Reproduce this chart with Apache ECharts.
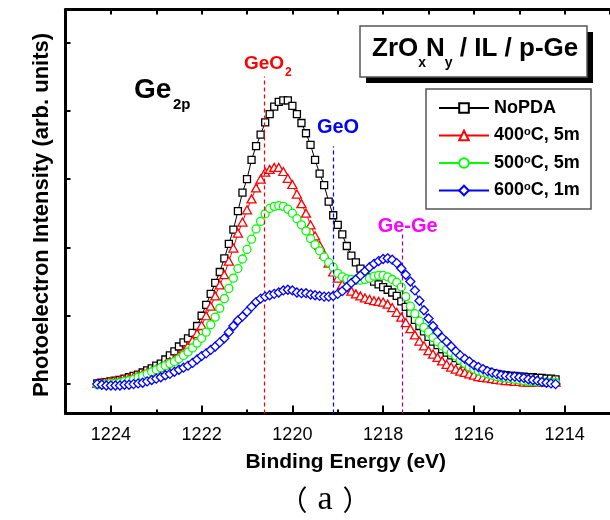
<!DOCTYPE html>
<html>
<head>
<meta charset="utf-8">
<script src="https://cdn.jsdelivr.net/npm/echarts@6/dist/echarts.min.js"></script>
<style>html,body{margin:0;padding:0;background:#fff}#c{width:610px;height:520px}</style>
</head>
<body>
<div id="c"></div>
<script>
// Binding energy (eV) of each data point
const energies = [
  1224.3,1224.2,1224.1,1224.0,1223.9,1223.8,1223.7,1223.6,1223.5,1223.4,
  1223.3,1223.2,1223.1,1223.0,1222.9,1222.8,1222.7,1222.6,1222.5,1222.4,
  1222.3,1222.2,1222.1,1222.0,1221.9,1221.8,1221.7,1221.6,1221.5,1221.4,
  1221.3,1221.2,1221.1,1221.0,1220.9,1220.8,1220.7,1220.6,1220.5,1220.4,
  1220.3,1220.2,1220.1,1220.0,1219.9,1219.8,1219.7,1219.6,1219.5,1219.4,
  1219.3,1219.2,1219.1,1219.0,1218.9,1218.8,1218.7,1218.6,1218.5,1218.4,
  1218.3,1218.2,1218.1,1218.0,1217.9,1217.8,1217.7,1217.6,1217.5,1217.4,
  1217.3,1217.2,1217.1,1217.0,1216.9,1216.8,1216.7,1216.6,1216.5,1216.4,
  1216.3,1216.2,1216.1,1216.0,1215.9,1215.8,1215.7,1215.6,1215.5,1215.4,
  1215.3,1215.2,1215.1,1215.0,1214.9,1214.8,1214.7,1214.6,1214.5,1214.4,
  1214.3,1214.2
];
// Photoelectron intensity (arb. units)
const noPda = [
  0.01,0.02,0.03,0.04,0.05,0.06,0.08,0.10,0.12,0.14,
  0.17,0.20,0.23,0.27,0.30,0.36,0.42,0.48,0.55,0.61,
  0.67,0.75,0.85,1.00,1.16,1.32,1.48,1.64,1.84,2.05,
  2.26,2.53,2.80,3.00,3.28,3.48,3.65,3.83,3.95,4.06,
  4.13,4.15,4.15,4.07,3.95,3.82,3.67,3.50,3.28,3.08,
  2.91,2.67,2.47,2.33,2.19,2.02,1.88,1.78,1.69,1.62,
  1.56,1.50,1.46,1.42,1.38,1.34,1.29,1.21,1.13,1.04,
  0.94,0.85,0.77,0.69,0.62,0.57,0.51,0.46,0.42,0.38,
  0.34,0.30,0.27,0.24,0.22,0.20,0.18,0.16,0.15,0.14,
  0.13,0.12,0.12,0.11,0.11,0.10,0.10,0.09,0.09,0.08,
  0.08,0.07
];
const pda400 = [
  0.01,0.02,0.03,0.04,0.05,0.06,0.07,0.09,0.11,0.13,
  0.15,0.17,0.19,0.22,0.25,0.29,0.33,0.37,0.42,0.48,
  0.56,0.64,0.74,0.86,1.00,1.14,1.29,1.45,1.60,1.80,
  1.99,2.21,2.37,2.55,2.71,2.87,3.00,3.10,3.14,3.17,
  3.17,3.11,3.01,2.92,2.78,2.64,2.50,2.33,2.17,2.03,
  1.90,1.77,1.64,1.55,1.46,1.41,1.36,1.32,1.29,1.26,
  1.24,1.22,1.21,1.20,1.17,1.12,1.05,0.98,0.90,0.81,
  0.72,0.63,0.56,0.49,0.44,0.39,0.34,0.29,0.25,0.22,
  0.19,0.17,0.15,0.13,0.11,0.10,0.09,0.08,0.07,0.06,
  0.05,0.05,0.04,0.04,0.03,0.03,0.03,0.03,0.03,0.03,
  0.03,0.03
];
const pda500 = [
  -0.01,-0.01,0.00,0.01,0.01,0.02,0.04,0.05,0.07,0.10,
  0.12,0.15,0.18,0.21,0.24,0.27,0.30,0.33,0.37,0.42,
  0.47,0.53,0.60,0.67,0.76,0.87,0.98,1.11,1.25,1.40,
  1.55,1.69,1.83,1.97,2.12,2.27,2.38,2.49,2.57,2.60,
  2.61,2.60,2.56,2.50,2.42,2.33,2.24,2.13,2.04,1.95,
  1.86,1.78,1.71,1.62,1.57,1.54,1.53,1.52,1.52,1.53,
  1.55,1.58,1.59,1.59,1.57,1.53,1.49,1.42,1.28,1.14,
  1.03,0.92,0.83,0.76,0.68,0.62,0.56,0.51,0.46,0.41,
  0.35,0.30,0.25,0.22,0.19,0.17,0.15,0.13,0.11,0.10,
  0.09,0.08,0.07,0.06,0.05,0.04,0.04,0.03,0.03,0.03,
  0.02,0.02
];
const pda600 = [
  0.00,-0.01,-0.02,-0.02,-0.02,-0.02,-0.01,-0.01,0.00,0.01,
  0.02,0.04,0.06,0.08,0.10,0.13,0.15,0.18,0.21,0.24,
  0.27,0.31,0.36,0.41,0.45,0.50,0.55,0.61,0.67,0.76,
  0.85,0.93,0.99,1.06,1.13,1.20,1.25,1.28,1.30,1.32,
  1.34,1.37,1.38,1.37,1.34,1.33,1.33,1.31,1.30,1.29,
  1.28,1.28,1.29,1.32,1.36,1.42,1.48,1.53,1.59,1.65,
  1.71,1.76,1.80,1.83,1.84,1.82,1.77,1.69,1.60,1.50,
  1.37,1.22,1.08,0.96,0.85,0.76,0.68,0.62,0.55,0.48,
  0.42,0.37,0.33,0.28,0.25,0.22,0.19,0.17,0.15,0.13,
  0.12,0.11,0.11,0.10,0.09,0.07,0.06,0.05,0.03,0.02,
  0.01,0.00
];
const seriesNames = ['NoPDA', '400°C, 5m', '500°C, 5m', '600°C, 1m'];
// reference peak positions (eV) and how high their dashed markers reach
const refNames = ['GeO2', 'GeO', 'Ge-Ge'];
const refEnergies = [1220.63, 1219.11, 1217.57];
const refTops = [4.50, 3.48, 2.21];
// ticks
const xMajorTicks = [1214, 1216, 1218, 1220, 1222, 1224];
const xMinorTicks = [1215, 1217, 1219, 1221, 1223];
const yTicks = [0, 1, 2, 3, 4, 5];

const X_MIN = 1213, X_MAX = 1225, Y_MIN = -0.43, Y_MAX = 5.48;
const FONT = 'Liberation Sans, Arial, sans-serif';
const colors = ['#000000', '#ff0000', '#00ff00', '#0000ff'];
const refColors = ['#ff0000', '#0000ff', '#990099'];
const symbols = ['rect', 'triangle', 'circle', 'diamond'];
const symbolSizes = [7, [9, 8], 8, 9];
const allValues = [noPda, pda400, pda500, pda600];

const chart = echarts.init(document.getElementById('c'), null, {renderer: 'canvas'});

const series = seriesNames.map((name, i) => ({
  name: name,
  type: 'line',
  xAxisIndex: 0,
  yAxisIndex: 0,
  data: energies.map((e, k) => [e, allValues[i][k]]),
  symbol: symbols[i],
  symbolSize: symbolSizes[i],
  showAllSymbol: true,
  lineStyle: {color: colors[i], width: 1},
  itemStyle: {color: '#ffffff', borderColor: colors[i], borderWidth: 1.3},
  emphasis: {disabled: true},
  silent: true,
  z: 2 + i
}));

series[3].markLine = {
  silent: true,
  symbol: ['none', 'none'],
  label: {show: false},
  animation: false,
  data: refEnergies.map((e, i) => [
    {coord: [e, Y_MIN], lineStyle: {color: refColors[i], type: [4, 3], width: 1.2}},
    {coord: [e, refTops[i]]}
  ])
};

function legendFormatter(name) {
  const m = name.match(/^(\d+)°C(.*)$/);
  if (m) return '{n|' + m[1] + '}{s|o}{n|C' + m[2] + '}';
  return '{n|' + name + '}';
}

const txt = (x, y, text, size, color, align, extra) => Object.assign({
  type: 'text', x: x, y: y, z: 30, silent: true,
  style: {text: text, fontSize: size, fontWeight: 'bold', fontFamily: FONT,
          fill: color, align: align || 'left', verticalAlign: 'middle'}
}, extra || {});

chart.setOption({
  animation: false,
  backgroundColor: '#ffffff',
  grid: {left: 65.5, top: 9.5, width: 549, height: 404},
  xAxis: [
    {
      type: 'value', min: X_MIN, max: X_MAX, interval: 1, inverse: true, position: 'bottom',
      axisLine: {show: true, onZero: false, lineStyle: {color: '#000', width: 3}},
      axisTick: {show: true, inside: true, length: 8, customValues: xMajorTicks,
                 lineStyle: {color: '#000', width: 2}},
      axisLabel: {show: true, margin: 13, fontSize: 18, color: '#000', fontFamily: FONT,
                  customValues: xMajorTicks, formatter: v => String(v)},
      splitLine: {show: false},
      name: 'Binding Energy (eV)', nameLocation: 'middle', nameGap: 38,
      nameTextStyle: {fontSize: 21, fontWeight: 'bold', color: '#000', fontFamily: FONT,
                      padding: [0, 0, 0, 16]}
    },
    {
      type: 'value', min: X_MIN, max: X_MAX, interval: 1, inverse: true, position: 'bottom',
      axisLine: {show: false, onZero: false},
      axisTick: {show: true, inside: true, length: 4, customValues: xMinorTicks,
                 lineStyle: {color: '#000', width: 2}},
      axisLabel: {show: false},
      splitLine: {show: false}
    },
    {
      type: 'value', min: X_MIN, max: X_MAX, interval: 1, inverse: true, position: 'top',
      axisLine: {show: true, onZero: false, lineStyle: {color: '#000', width: 3}},
      axisTick: {show: true, inside: true, length: 5, lineStyle: {color: '#000', width: 2}},
      axisLabel: {show: false},
      splitLine: {show: false}
    }
  ],
  yAxis: [
    {
      type: 'value', min: Y_MIN, max: Y_MAX, position: 'left',
      axisLine: {show: true, onZero: false, lineStyle: {color: '#000', width: 3}},
      axisTick: {show: true, inside: true, length: 5, customValues: yTicks,
                 lineStyle: {color: '#000', width: 2}},
      axisLabel: {show: false},
      splitLine: {show: false},
      name: 'Photoelectron Intensity (arb. units)', nameLocation: 'middle', nameGap: 13,
      nameRotate: 90,
      nameTextStyle: {fontSize: 22, fontWeight: 'bold', color: '#000', fontFamily: FONT,
                      padding: [0, 7, 0, 0]}
    }
  ],
  legend: {
    show: true, orient: 'vertical', left: 438, top: 99, padding: 0,
    itemGap: 9.5, itemWidth: 50, itemHeight: 12, z: 40,
    selectedMode: false,
    data: seriesNames,
    formatter: legendFormatter,
    textStyle: {
      color: '#000', fontFamily: FONT, fontWeight: 'bold', fontSize: 18,
      rich: {
        n: {fontSize: 18, fontWeight: 'bold', fontFamily: FONT, color: '#000', lineHeight: 18},
        s: {fontSize: 11, fontWeight: 'bold', fontFamily: FONT, color: '#000', lineHeight: 11,
            verticalAlign: 'top'}
      }
    }
  },
  graphic: [
    // title box with drop shadow
    {type: 'rect', z: 20, silent: true, shape: {x: 366, y: 32, width: 227, height: 51},
     style: {fill: '#000'}},
    {type: 'rect', z: 21, silent: true, shape: {x: 360, y: 26, width: 227, height: 51},
     style: {fill: '#fff', stroke: '#555', lineWidth: 1.5}},
    txt(372, 49, 'ZrO', 26, '#000'),
    txt(418.2, 63.5, 'x', 14, '#000'),
    txt(426, 49, 'N', 26, '#000'),
    txt(444.8, 63.5, 'y', 14, '#000'),
    txt(452.6, 49, ' / IL / p-Ge', 26, '#000'),
    // legend frame
    {type: 'rect', z: 21, silent: true, shape: {x: 426, y: 89, width: 165, height: 120},
     style: {fill: '#fff', stroke: '#555', lineWidth: 1.5}},
    // Ge 2p label
    txt(134, 90, 'Ge', 28, '#000'),
    txt(173, 105, '2p', 15, '#000'),
    // peak labels
    txt(244, 63.3, 'GeO', 19, '#ff0000'),
    txt(285, 72.8, '2', 12, '#ff0000'),
    txt(338, 127, 'GeO', 20, '#0000ff', 'center'),
    txt(407.7, 226.4, 'Ge-Ge', 20, '#ff00ff', 'center'),
    // caption
    {type: 'text', x: 325, y: 500, z: 30, silent: true,
     style: {text: '{p|（}{a|a}{p|）}', align: 'center', verticalAlign: 'middle', fill: '#000',
             rich: {
               p: {fontFamily: 'Noto Sans CJK SC', fontSize: 28, fill: '#000'},
               a: {fontFamily: 'Liberation Serif', fontSize: 34, fill: '#000', padding: [0, 10, 0, 10]}
             }}}
  ],
  series: series
});
</script>
</body>
</html>
